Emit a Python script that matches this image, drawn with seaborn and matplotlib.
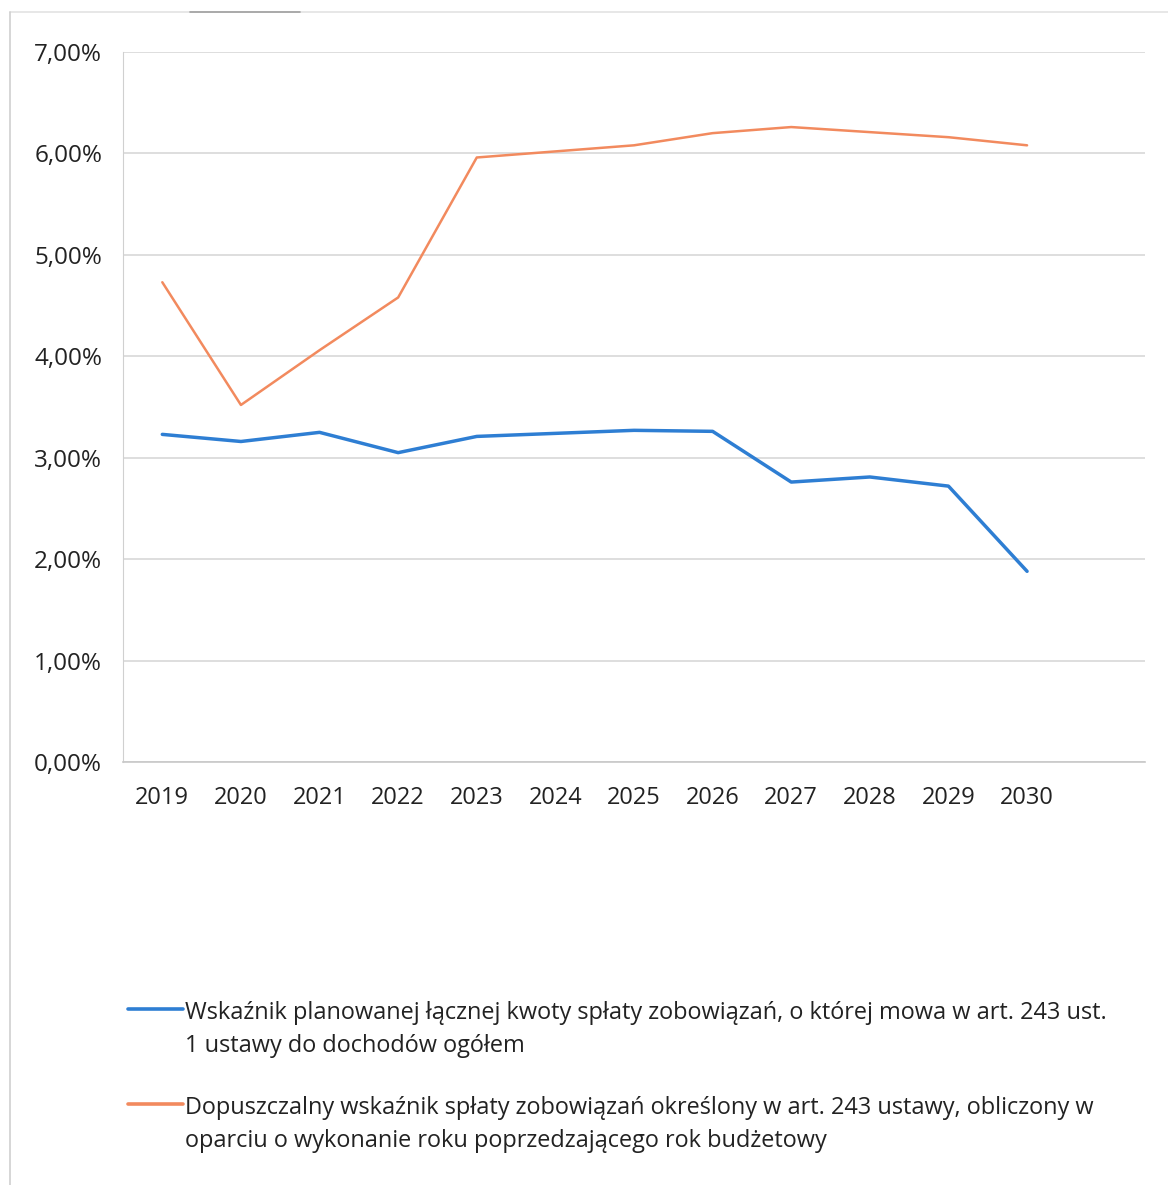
import matplotlib
matplotlib.use("Agg")
import pandas as pd
import seaborn as sns
import matplotlib.pyplot as plt
from matplotlib.lines import Line2D
from matplotlib.ticker import FuncFormatter, FixedLocator

# values (in %)
years = ["2019", "2020", "2021", "2022", "2023", "2024",
         "2025", "2026", "2027", "2028", "2029", "2030"]
planned = [3.23, 3.16, 3.25, 3.05, 3.21, 3.24, 3.27, 3.26, 2.76, 2.81, 2.72, 1.88]
allowed = [4.73, 3.52, 4.06, 4.58, 5.96, 6.02, 6.08, 6.20, 6.26, 6.21, 6.16, 6.08]

label_planned = ("Wskaźnik planowanej łącznej kwoty spłaty zobowiązań, o której mowa w art. 243 ust.\n"
                 "1 ustawy do dochodów ogółem")
label_allowed = ("Dopuszczalny wskaźnik spłaty zobowiązań określony w art. 243 ustawy, obliczony w\n"
                 "oparciu o wykonanie roku poprzedzającego rok budżetowy")

blue = "#2E7ED3"
orange = "#F28A5E"

df = pd.DataFrame({"year": years, "planned": planned, "allowed": allowed})

sns.set_style("white")
plt.rcParams["font.family"] = ["Open Sans", "DejaVu Sans"]

W, H = 1168, 1185
fig = plt.figure(figsize=(W / 100, H / 100), dpi=100)
ax = fig.add_axes([123 / W, 1 - 762 / H, (1145 - 123) / W, (762 - 52) / H])

sns.lineplot(data=df, x="year", y="planned", ax=ax, color=blue, linewidth=2.5, sort=False)
sns.lineplot(data=df, x="year", y="allowed", ax=ax, color=orange, linewidth=1.8, sort=False)

ax.set_xlim(-0.5, 12.5)
ax.set_ylim(0, 7)
ax.set_yticks(range(0, 8))
ax.yaxis.set_major_formatter(FuncFormatter(lambda v, p: f"{v:.2f}%".replace(".", ",")))
ax.grid(axis="y", color="#d4d4d4", linewidth=1.1)
ax.set_xlabel("")
ax.set_ylabel("")

ax.xaxis.set_minor_locator(FixedLocator([i - 0.5 for i in range(14)]))
ax.tick_params(axis="x", which="major", length=0, pad=17, labelsize=17, colors="#222222")
ax.tick_params(axis="x", which="minor", length=8, width=1, color="#bfbfbf", direction="out")
ax.tick_params(axis="y", length=0, pad=15, labelsize=17.5, colors="#222222")

for s in ["top", "right"]:
    ax.spines[s].set_visible(False)
ax.spines["left"].set_color("#d0d0d0")
ax.spines["bottom"].set_color("#c8c8c8")
ax.spines["bottom"].set_linewidth(1.2)

# legend below the plot: handle next to the first line of each label
for lab, col, y0 in [(label_planned, blue, 1010), (label_allowed, orange, 1105)]:
    fig.add_artist(Line2D([128 / W, 183 / W], [1 - (y0 - 1) / H] * 2, color=col, linewidth=2.6))
    fig.text(185 / W, 1 - (y0 - 9) / H, lab, ha="left", va="top", fontsize=16.9,
             color="#222222", linespacing=1.5)

# outer frame of the scanned chart
fig.add_artist(Line2D([10 / W, 1], [1 - 12 / H, 1 - 12 / H], color="#e3e3e3", linewidth=1.2))
fig.add_artist(Line2D([10 / W, 10 / W], [0, 1 - 12 / H], color="#cfcfcf", linewidth=1.2))
fig.add_artist(Line2D([190 / W, 300 / W], [1 - 12 / H, 1 - 12 / H], color="#a0a0a0", linewidth=1.2))

fig.savefig("out.png", dpi=100, facecolor="white")
